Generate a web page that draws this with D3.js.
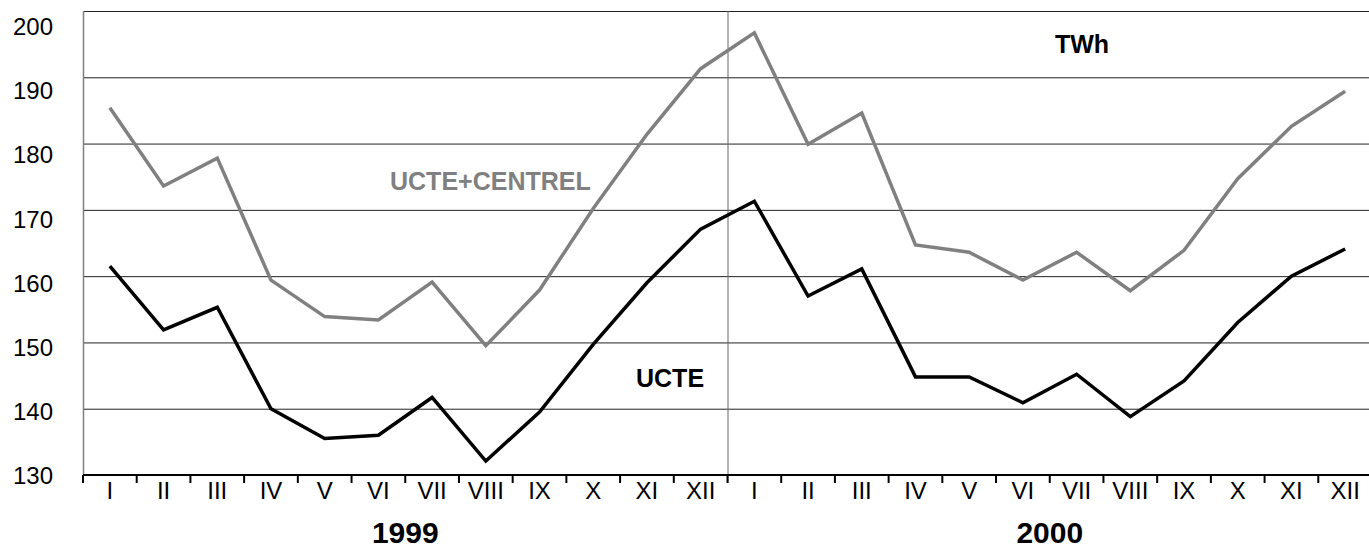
<!DOCTYPE html>
<html>
<head>
<meta charset="utf-8">
<script src="https://cdn.jsdelivr.net/npm/d3@7"></script>
<style>
  body { margin: 0; background: #fff; }
  svg { display: block; font-family: "Liberation Sans", Arial, sans-serif; }
</style>
</head>
<body>
<div id="chart-area"></div>
<script>
var years = ['1999', '2000'];
var monthNames = ['I', 'II', 'III', 'IV', 'V', 'VI', 'VII', 'VIII', 'IX', 'X', 'XI', 'XII'];
var yTicks = [130, 140, 150, 160, 170, 180, 190, 200];

// TWh per month
var ucteCentrel1999 = [185.4, 173.6, 177.8, 159.4, 153.9, 153.4, 159.1, 149.5, 157.9, 170.2, 181.4, 191.3];
var ucteCentrel2000 = [196.7, 179.9, 184.6, 164.7, 163.6, 159.4, 163.6, 157.8, 163.9, 174.7, 182.6, 187.9];
var ucte1999 = [161.5, 151.9, 155.3, 140.0, 135.5, 136.0, 141.7, 132.1, 139.5, 149.7, 159.0, 167.1];
var ucte2000 = [171.3, 157.0, 161.1, 144.8, 144.8, 140.9, 145.2, 138.8, 144.2, 153.0, 160.0, 164.1];

var W = 1369, H = 548;
var plot = { left: 83, right: 1372, top: 11, bottom: 475 };

// one key per month of both years
var keys = [];
years.forEach(y => monthNames.forEach(m => keys.push(y + '-' + m)));

function toPoints(a, b) {
    return a.concat(b).map((v, i) => ({ key: keys[i], value: v }));
}
var series = [
    { name: 'UCTE+CENTREL', color: '#808080', points: toPoints(ucteCentrel1999, ucteCentrel2000) },
    { name: 'UCTE', color: '#000000', points: toPoints(ucte1999, ucte2000) }
];

var svg = d3.select('#chart-area')
    .append('svg')
        .attr('width', W)
        .attr('height', H);

var x = d3.scaleBand()
    .domain(keys)
    .range([plot.left, plot.right]);

var y = d3.scaleLinear()
    .domain([130, 200])
    .range([plot.bottom, plot.top]);

// labels sit on a slightly different spacing than the gridlines
var yLabel = d3.scaleLinear()
    .domain([130, 200])
    .range([476, 27]);

// gridlines
svg.append('g')
    .selectAll('line')
    .data(yTicks.filter(d => d > 130))
    .enter()
    .append('line')
        .attr('x1', plot.left)
        .attr('x2', plot.right)
        .attr('y1', d => y(d) + 0.5)
        .attr('y2', d => y(d) + 0.5)
        .attr('stroke', '#222')
        .attr('stroke-width', 1);

// y labels
var yAxis = d3.axisLeft(yLabel)
    .tickValues(yTicks)
    .tickSize(0)
    .tickPadding(0);
svg.append('g')
    .attr('transform', 'translate(53,0)')
    .call(yAxis)
    .call(g => g.select('.domain').remove())
    .selectAll('text')
        .attr('font-family', '"Liberation Sans", Arial, sans-serif')
        .attr('font-size', '24px')
        .attr('fill', '#000');

// left axis line and year divider
svg.append('line')
    .attr('x1', plot.left + 0.5).attr('x2', plot.left + 0.5)
    .attr('y1', plot.top).attr('y2', plot.bottom)
    .attr('stroke', '#808080')
    .attr('stroke-width', 1.5);

svg.append('line')
    .attr('x1', x(keys[12]) + 0.5).attr('x2', x(keys[12]) + 0.5)
    .attr('y1', plot.top).attr('y2', plot.bottom + 8)
    .attr('stroke', '#666')
    .attr('stroke-width', 1);

// x axis with month labels centred in bands
var xAxis = d3.axisBottom(x)
    .tickSize(0)
    .tickPadding(7)
    .tickFormat(d => d.split('-')[1]);
svg.append('g')
    .attr('transform', 'translate(0,' + plot.bottom + ')')
    .call(xAxis)
    .call(g => g.select('.domain').remove())
    .selectAll('text')
        .attr('font-family', '"Liberation Sans", Arial, sans-serif')
        .attr('font-size', '24px')
        .attr('fill', '#000');

svg.append('line')
    .attr('x1', plot.left).attr('x2', plot.right)
    .attr('y1', plot.bottom).attr('y2', plot.bottom)
    .attr('stroke', '#000')
    .attr('stroke-width', 2);

// boundary ticks between months
svg.append('g')
    .selectAll('line')
    .data(keys)
    .enter()
    .append('line')
        .attr('x1', d => x(d))
        .attr('x2', d => x(d))
        .attr('y1', plot.bottom)
        .attr('y2', plot.bottom + 8)
        .attr('stroke', '#000')
        .attr('stroke-width', 2);

// series lines
var line = d3.line()
    .x(d => x(d.key) + x.bandwidth() / 2)
    .y(d => y(d.value));

svg.selectAll('.series')
    .data(series)
    .enter()
    .append('path')
        .attr('class', 'series')
        .attr('d', d => line(d.points))
        .attr('fill', 'none')
        .attr('stroke', d => d.color)
        .attr('stroke-width', 3.5)
        .attr('stroke-linejoin', 'miter');

// Year labels
svg.selectAll('.year')
    .data(years)
    .enter()
    .append('text')
        .attr('class', 'year')
        .attr('x', (d, i) => (x(keys[i * 12]) + x(keys[i * 12 + 11]) + x.bandwidth()) / 2)
        .attr('y', 543)
        .attr('text-anchor', 'middle')
        .attr('font-size', '30px')
        .attr('font-weight', 'bold')
        .text(d => d);

// Unit and series labels
svg.append('text')
    .attr('x', 1055)
    .attr('y', 53)
    .attr('font-size', '25px')
    .attr('font-weight', 'bold')
    .text('TWh');

svg.append('text')
    .attr('x', 390)
    .attr('y', 190)
    .attr('font-size', '25px')
    .attr('font-weight', 'bold')
    .attr('fill', '#808080')
    .text('UCTE+CENTREL');

svg.append('text')
    .attr('x', 636)
    .attr('y', 387)
    .attr('font-size', '25px')
    .attr('font-weight', 'bold')
    .text('UCTE');
</script>
</body>
</html>
